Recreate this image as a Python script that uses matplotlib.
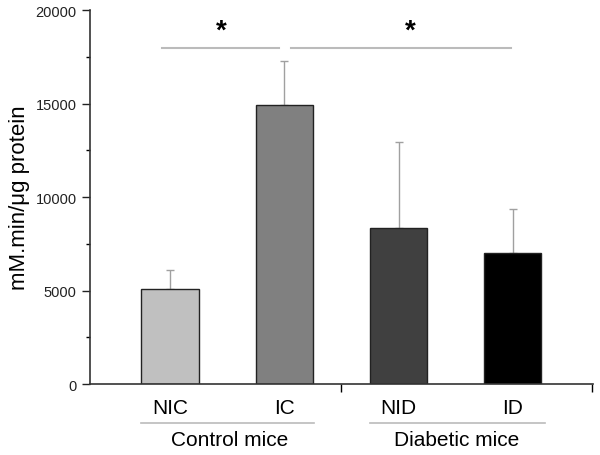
import numpy as np
import matplotlib
matplotlib.use("Agg")
import matplotlib.pyplot as plt
from matplotlib.ticker import MultipleLocator, FixedLocator

plt.rcParams['font.family'] = ['Liberation Sans', 'DejaVu Sans']

groups = ['NIC', 'IC', 'NID', 'ID']
means = [5080, 14920, 8340, 6990]
errs = [1030, 2350, 4580, 2390]
colors = ['#c0c0c0', '#808080', '#404040', '#000000']
group_names = ['Control mice', 'Diabetic mice']

fig = plt.figure(figsize=(6, 4.56), dpi=100)
ax = fig.add_axes([0.15, 0.1557, 0.838, 0.82])

x = np.arange(1, len(groups) + 1)
ax.bar(x, means, width=0.5, color=colors, edgecolor='#222222', linewidth=1, zorder=2)
ax.errorbar(x, means, yerr=[np.zeros(len(errs)), errs], fmt='none',
            ecolor='#a0a0a0', elinewidth=1, capsize=3, capthick=1, zorder=1)

ax.set_xlim(0.3, 4.7)
ax.set_ylim(0, 20000)
ax.yaxis.set_major_locator(MultipleLocator(5000))
ax.yaxis.set_minor_locator(MultipleLocator(2500))
ax.set_xticks(x)
ax.set_xticklabels(groups, fontsize=15)
ax.xaxis.set_minor_locator(FixedLocator([2.5, 4.69]))
ax.tick_params(axis='x', which='major', length=0, pad=10)
ax.tick_params(axis='x', which='minor', length=6, width=1, direction='out')
ax.tick_params(axis='y', which='major', length=6, width=1, labelsize=10.5, colors='#222222')
ax.tick_params(axis='y', which='minor', length=3, width=1)
for s in ['top', 'right']:
    ax.spines[s].set_visible(False)
for s in ['left', 'bottom']:
    ax.spines[s].set_linewidth(1.2)
    ax.spines[s].set_color('#333333')

ax.set_ylabel('mM.min/\u03bcg protein', fontsize=16, labelpad=4)

# significance bars
sig_y = 17950
ax.plot([0.93, 1.95], [sig_y, sig_y], color='#bbbbbb', lw=1.5)
ax.plot([2.06, 3.98], [sig_y, sig_y], color='#bbbbbb', lw=1.5)
ax.text(1.45, 18200, '*', ha='center', va='bottom', fontsize=20, fontweight='bold')
ax.text(3.10, 18200, '*', ha='center', va='bottom', fontsize=20, fontweight='bold')

# group labels below axis
trans = ax.get_xaxis_transform()
ax.plot([0.75, 2.26], [-0.104, -0.104], color='#bbbbbb', lw=1.2, transform=trans, clip_on=False)
ax.plot([2.75, 4.28], [-0.104, -0.104], color='#bbbbbb', lw=1.2, transform=trans, clip_on=False)
ax.text(1.52, -0.122, group_names[0], ha='center', va='top', fontsize=15, transform=trans)
ax.text(3.51, -0.122, group_names[1], ha='center', va='top', fontsize=15, transform=trans)

fig.savefig('out.png', dpi=100)
